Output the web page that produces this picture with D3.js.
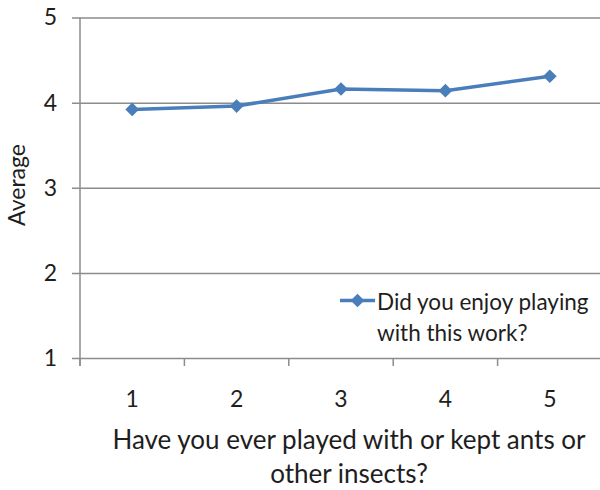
<!DOCTYPE html>
<html>
<head>
<meta charset="utf-8">
<script src="https://cdn.jsdelivr.net/npm/d3@7/dist/d3.min.js"></script>
<style>
  html, body { margin: 0; padding: 0; background: #fff; }
  svg { display: block; font-family: Lato, "Open Sans", sans-serif; }
</style>
</head>
<body>
<svg id="chart" width="600" height="490"></svg>
<script>
// Answer groups and mean ratings
const categories = ["1", "2", "3", "4", "5"];
const averages = [3.92, 3.96, 4.16, 4.14, 4.31];
const yTicks = [1, 2, 3, 4, 5];
const seriesName = ["Did you enjoy playing", "with this work?"];
const xTitle = ["Have you ever played with or kept ants or", "other insects?"];
const yTitle = "Average";

const svg = d3.select("#chart");
const plotLeft = 80, plotRight = 602, plotTop = 17.5, plotBottom = 358;
const gridColor = "#8c8c8c";
const lineColor = "#4a7ebb";
const textColor = "#1e1e1e";

const x = d3.scaleBand().domain(categories).range([plotLeft, plotRight]);
const y = d3.scaleLinear().domain([1, 5]).range([plotBottom, plotTop]);

// horizontal gridlines with short ticks on the left
const yAxis = d3.axisLeft(y).tickValues(yTicks).tickFormat(d3.format("d"))
  .tickSize(-(plotRight - plotLeft)).tickSizeOuter(0);
const gy = svg.append("g").attr("transform", `translate(${plotLeft},0)`).call(yAxis);
gy.select(".domain").remove();
gy.selectAll(".tick line").attr("stroke", gridColor).attr("stroke-width", 1.5)
  .attr("x1", -8);
gy.selectAll(".tick text").attr("fill", textColor).attr("font-size", 23)
  .attr("font-family", "Lato, sans-serif").attr("x", -23);

// vertical axis line
svg.append("line").attr("x1", plotLeft).attr("x2", plotLeft)
  .attr("y1", plotTop).attr("y2", plotBottom + 8)
  .attr("stroke", gridColor).attr("stroke-width", 1.5);

// category axis with ticks at band boundaries
const boundaries = categories.map(c => x(c)).concat([plotRight]);
svg.append("g").selectAll("line").data(boundaries).join("line")
  .attr("x1", d => d).attr("x2", d => d).attr("y1", plotBottom).attr("y2", plotBottom + 8)
  .attr("stroke", gridColor).attr("stroke-width", 1.5);
svg.append("g").selectAll("text").data(categories).join("text")
  .attr("x", d => x(d) + x.bandwidth() / 2).attr("y", 407)
  .attr("text-anchor", "middle").attr("font-size", 23).attr("fill", textColor)
  .text(d => d);

// series line and diamond markers
const line = d3.line().x((d, i) => x(categories[i]) + x.bandwidth() / 2).y(d => y(d));
svg.append("path").datum(averages).attr("d", line)
  .attr("fill", "none").attr("stroke", lineColor).attr("stroke-width", 3.5)
  .attr("stroke-linejoin", "round");
const diamond = d3.symbol().type(d3.symbolDiamond2).size(120);
svg.append("g").selectAll("path").data(averages).join("path")
  .attr("transform", (d, i) => `translate(${x(categories[i]) + x.bandwidth() / 2},${y(d)})`)
  .attr("d", diamond).attr("fill", lineColor);

// legend
const lg = svg.append("g");
lg.append("line").attr("x1", 340).attr("x2", 375).attr("y1", 300.5).attr("y2", 300.5)
  .attr("stroke", lineColor).attr("stroke-width", 3.5);
lg.append("path").attr("transform", "translate(357.5,300.5)")
  .attr("d", diamond).attr("fill", lineColor);
lg.selectAll("text").data(seriesName).join("text")
  .attr("x", 377).attr("y", (d, i) => 310 + i * 31)
  .attr("font-size", 22.5).attr("fill", textColor).text(d => d);

// axis titles
svg.append("g").selectAll("text").data(xTitle).join("text")
  .attr("x", 349).attr("y", (d, i) => 449 + i * 34)
  .attr("text-anchor", "middle").attr("font-size", 26).attr("fill", textColor)
  .text(d => d);
svg.append("text").attr("transform", "translate(25,185) rotate(-90)")
  .attr("text-anchor", "middle").attr("font-size", 23).attr("fill", textColor)
  .text(yTitle);
</script>
</body>
</html>
